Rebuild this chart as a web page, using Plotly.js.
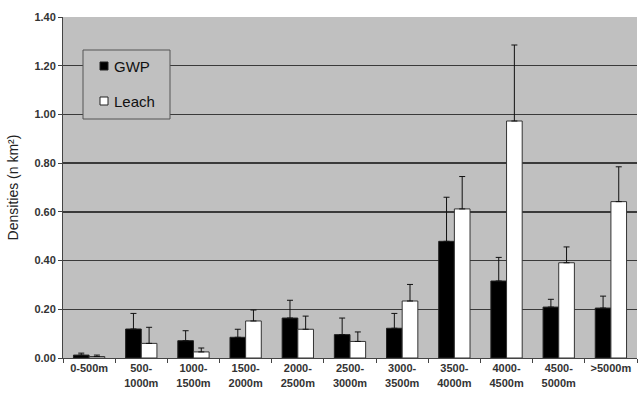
<!DOCTYPE html>
<html>
<head>
<meta charset="utf-8">
<script src="https://cdn.plot.ly/plotly-3.0.1.min.js"></script>
<style>html,body{margin:0;padding:0;background:#fff;}#chart{width:638px;height:394px;}</style>
</head>
<body>
<div id="chart"></div>
<script>
const categories = ["0-500m", "500-<br>1000m", "1000-<br>1500m", "1500-<br>2000m", "2000-<br>2500m", "2500-<br>3000m", "3000-<br>3500m", "3500-<br>4000m", "4000-<br>4500m", "4500-<br>5000m", ">5000m"];
const gwp = [0.012, 0.119, 0.071, 0.085, 0.164, 0.096, 0.122, 0.479, 0.316, 0.209, 0.205];
const gwpErr = [0.008, 0.064, 0.041, 0.033, 0.073, 0.068, 0.061, 0.181, 0.097, 0.032, 0.049];
const leach = [0.006, 0.060, 0.025, 0.152, 0.118, 0.068, 0.234, 0.612, 0.973, 0.391, 0.642];
const leachErr = [0.006, 0.066, 0.016, 0.045, 0.054, 0.039, 0.068, 0.133, 0.312, 0.065, 0.143];
const yTicks = [0, 0.2, 0.4, 0.6, 0.8, 1.0, 1.2, 1.4];
const seriesNames = ["GWP", "Leach"];
const seriesFill = ["#000", "#fff"];

const errStyle = (arr) => ({type: 'data', array: arr, arrayminus: arr.map(() => 0), symmetric: false, visible: true, color: '#111', thickness: 1, width: 3});

const traces = [
  {type: 'bar', name: seriesNames[0], x: categories, y: gwp,
   marker: {color: seriesFill[0], line: {color: '#222', width: 1}}, error_y: errStyle(gwpErr)},
  {type: 'bar', name: seriesNames[1], x: categories, y: leach,
   marker: {color: seriesFill[1], line: {color: '#333', width: 1}}, error_y: errStyle(leachErr)}
];

// legend box drawn in paper coordinates (plot area: 574 x 341 px)
const px = (v) => v / 574, py = (v) => v / 341;
const shapes = [
  {type: 'rect', xref: 'paper', yref: 'paper', x0: px(20), x1: px(107), y0: py(239), y1: py(308),
   fillcolor: '#c0c0c0', line: {color: '#555', width: 1}, layer: 'above'}
];
const annotations = [];
seriesNames.forEach((name, i) => {
  const cy = 292 - i * 35;
  shapes.push({type: 'rect', xref: 'paper', yref: 'paper', x0: px(37), x1: px(45), y0: py(cy - 4), y1: py(cy + 4),
               fillcolor: seriesFill[i], line: {color: '#222', width: 1}, layer: 'above'});
  annotations.push({xref: 'paper', yref: 'paper', x: px(49), y: py(cy), xanchor: 'left', yanchor: 'middle',
                    text: name, showarrow: false, font: {size: 15, color: '#111', family: 'Liberation Sans, Arial, sans-serif'}});
});

const layout = {
  width: 638, height: 394,
  margin: {l: 63, r: 1, t: 17, b: 36},
  paper_bgcolor: '#fff', plot_bgcolor: '#c0c0c0',
  barmode: 'group', bargap: 0.4, bargroupgap: 0,
  font: {family: 'Liberation Sans, Arial, sans-serif', color: '#333'},
  showlegend: false,
  shapes: shapes,
  annotations: annotations,
  xaxis: {type: 'category', tickson: 'boundaries', ticks: 'outside', ticklen: 4, tickcolor: '#444',
          showline: true, linecolor: '#444', linewidth: 1, showgrid: false,
          tickfont: {size: 11, color: '#333', family: 'Liberation Sans, Arial, sans-serif', weight: 'bold'}, tickangle: 0},
  yaxis: {range: [0, 1.4], tickvals: yTicks, ticktext: yTicks.map(v => v.toFixed(2)), ticks: 'outside', ticklen: 4, tickcolor: '#444',
          showline: true, linecolor: '#444', linewidth: 1, showgrid: true, gridcolor: '#3a3a3a', gridwidth: 1.4, zeroline: false,
          tickfont: {size: 11, color: '#333', weight: 'bold'},
          title: {text: 'Densities (n km²)', font: {size: 14, color: '#222'}, standoff: 12}}
};

Plotly.newPlot('chart', traces, layout, {displayModeBar: false, staticPlot: true});
</script>
</body>
</html>
